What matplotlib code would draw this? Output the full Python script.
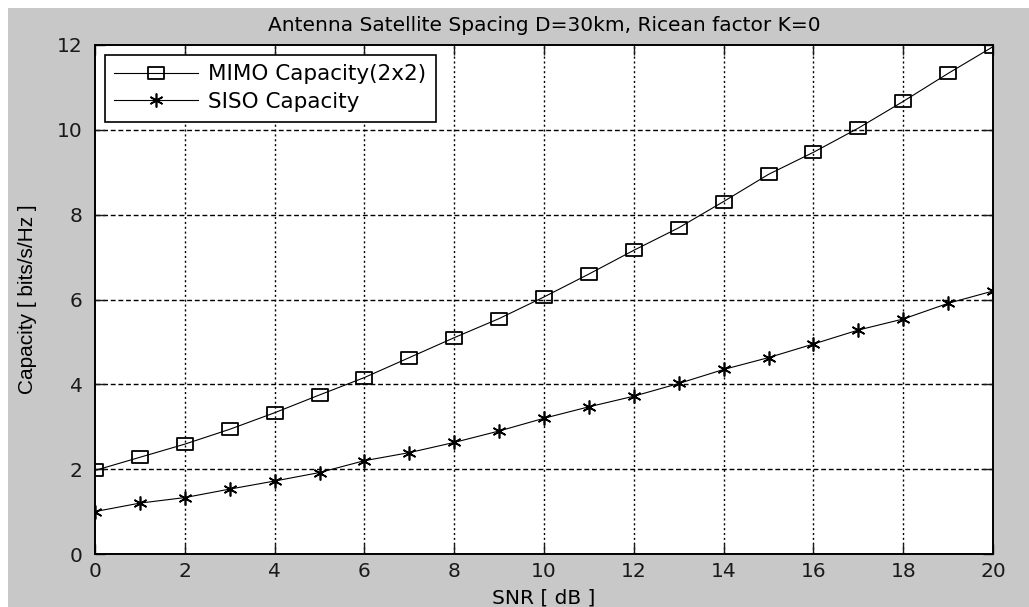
import numpy as np
import matplotlib.pyplot as plt
from matplotlib.path import Path
from matplotlib.patches import Rectangle

# SNR values in dB
snr_db = [0, 1, 2, 3, 4, 5, 6, 7, 8, 9, 10, 11, 12, 13, 14, 15, 16, 17, 18, 19, 20]

# capacity (bits/s/Hz)
mimo_cap = [1.97, 2.28, 2.59, 2.94, 3.33, 3.75, 4.16, 4.63, 5.10, 5.55, 6.06,
            6.60, 7.16, 7.69, 8.31, 8.95, 9.47, 10.04, 10.67, 11.33, 11.96]
siso_cap = [1.00, 1.20, 1.33, 1.53, 1.72, 1.92, 2.20, 2.39, 2.63, 2.90, 3.20,
            3.47, 3.72, 4.02, 4.35, 4.63, 4.95, 5.28, 5.54, 5.91, 6.20]

xticks = [0, 2, 4, 6, 8, 10, 12, 14, 16, 18, 20]
yticks = [0, 2, 4, 6, 8, 10, 12]

plt.rcParams['font.family'] = ['DejaVu Sans']

# MATLAB-ish squares look wider than tall in the screenshot
rect_marker = Path([(-1.45, -1), (1.45, -1), (1.45, 1), (-1.45, 1), (-1.45, -1)],
                   [Path.MOVETO, Path.LINETO, Path.LINETO, Path.LINETO, Path.CLOSEPOLY])

fig = plt.figure(figsize=(10.29, 6.07), dpi=100, facecolor='white')
# grey window area (screenshot has a thin white edge top/left)
fig.patches.append(Rectangle((8 / 1029, 0), 1, 1 - 8 / 607, transform=fig.transFigure,
                             facecolor='#c8c8c8', edgecolor='none', zorder=-10))

ax = fig.add_axes([95 / 1029, 53 / 607, 898 / 1029, 509 / 607])
ax.set_facecolor('white')

ax.plot(snr_db, mimo_cap, color='black', lw=0.8, marker=rect_marker, ms=12,
        mfc='none', mec='black', mew=1.3, label='MIMO Capacity(2x2)')
ax.plot(snr_db, siso_cap, color='black', lw=0.8, marker=(6, 2, 0), ms=10,
        mec='black', mew=1.2, label='SISO Capacity')

ax.set_xlim(0, 20)
ax.set_ylim(0, 12)
ax.set_xticks(xticks)
ax.set_yticks(yticks)
ax.tick_params(direction='in', length=7, width=1, top=True, right=True,
               labelsize=14.5, colors='#1a1a1a')
ax.tick_params(axis='y', pad=9)
ax.tick_params(axis='x', pad=6)

for x in xticks[1:-1]:
    ax.axvline(x, color='black', lw=1.0, ls=(0, (1.5, 2)), zorder=0)
for y in yticks[1:-1]:
    ax.axhline(y, color='black', lw=1.0, ls=(0, (3.5, 2)), zorder=0)

for s in ax.spines.values():
    s.set_linewidth(1.4)

ax.set_title('Antenna Satellite Spacing D=30km, Ricean factor K=0', fontsize=14.5, pad=10)
ax.set_xlabel('SNR [ dB ]', fontsize=14.5, labelpad=5)
ax.set_ylabel('Capacity [ bits/s/Hz ]', fontsize=15, labelpad=14,
              family='Liberation Sans')

leg = ax.legend(loc='upper left', fontsize=15.5, frameon=True, fancybox=False,
                edgecolor='black', framealpha=1, borderaxespad=0.45,
                handlelength=3.9, handletextpad=0.45, borderpad=0.45,
                labelspacing=0.35)
leg.get_frame().set_linewidth(1.2)

fig.savefig('out.png', dpi=100, facecolor=fig.get_facecolor())
